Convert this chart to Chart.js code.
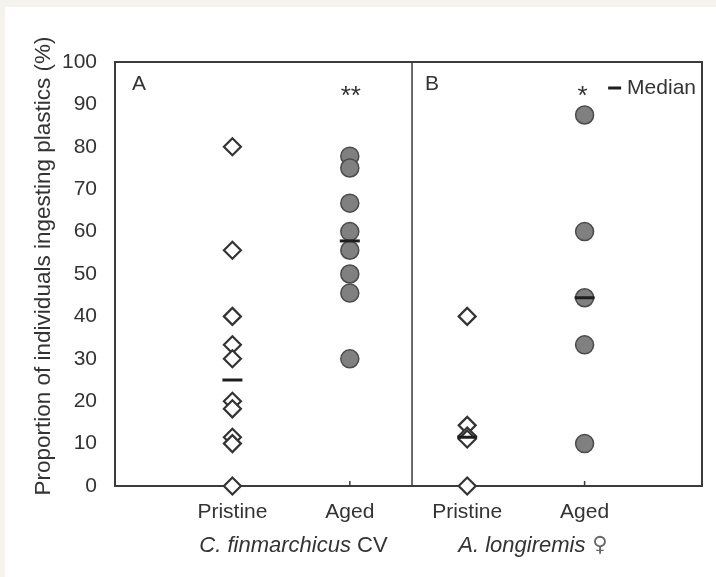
<!DOCTYPE html>
<html lang="en">
<head>
<meta charset="UTF-8">
<title>Plastic ingestion by copepods</title>
<script src="https://cdn.jsdelivr.net/npm/chart.js"></script>
<style>
  body { margin: 0; background: #f4f3ee; }
  #wrap { position: absolute; left: 5px; top: 7px; width: 711px; height: 570px; background: #fff; }
</style>
</head>
<body>
<div id="wrap"><canvas id="ingestChart"></canvas></div>
<script>
// x positions 1..4 on a linear axis, two panels split at dividerAt
const categories = ['Pristine', 'Aged', 'Pristine', 'Aged'];
const finPristine = [80, 55.6, 40, 33.3, 30, 20, 18.2, 11.5, 10, 0];
const finAged = [77.8, 75, 66.7, 60, 55.6, 50, 45.5, 30];
const lonPristine = [40, 14.3, 11.8, 11.1, 0];
const lonAged = [87.5, 60, 44.4, 33.3, 10];
const medians = [25, 57.8, 11.5, 44.4];
const panelLabels = ['A', 'B'];
const signif = ['**', '*'];
const species = [['C. finmarchicus', ' CV'], ['A. longiremis', ' \u2640']];
const yTitle = 'Proportion of individuals ingesting plastics (%)';

const dividerAt = 2.53;
const ink = '#333';
const family = "'Liberation Sans', Arial, sans-serif";

const at = (vals, xv) => vals.map(v => ({ x: xv, y: v }));

const framePlugin = {
  id: 'frame',
  beforeDatasetsDraw(chart) {
    const { ctx, chartArea: a, scales: { x } } = chart;
    ctx.save();
    ctx.strokeStyle = '#3c3c3c';
    ctx.lineWidth = 2;
    ctx.strokeRect(a.left, a.top, a.width, a.height);
    // panel divider
    const dx = x.getPixelForValue(dividerAt);
    ctx.lineWidth = 1.5;
    ctx.beginPath();
    ctx.moveTo(dx, a.top);
    ctx.lineTo(dx, a.bottom);
    // short inward ticks at each group
    categories.forEach((c, i) => {
      const px = x.getPixelForValue(i + 1);
      ctx.moveTo(px, a.bottom);
      ctx.lineTo(px, a.bottom - 5);
    });
    ctx.stroke();
    ctx.restore();
  }
};

const textPlugin = {
  id: 'texts',
  afterDatasetsDraw(chart) {
    const { ctx, chartArea: a, scales: { x, y } } = chart;
    ctx.save();
    ctx.fillStyle = ink;
    ctx.font = '21px ' + family;
    ctx.textBaseline = 'middle';
    ctx.textAlign = 'center';
    const dx = x.getPixelForValue(dividerAt);
    ctx.fillText(panelLabels[0], a.left + 24, a.top + 22);
    ctx.fillText(panelLabels[1], dx + 20, a.top + 22);

    // y axis title, rotated
    ctx.save();
    ctx.translate(39, (a.top + a.bottom) / 2 - 8);
    ctx.rotate(-Math.PI / 2);
    ctx.font = '22.5px ' + family;
    ctx.fillText(yTitle, 0, 0);
    ctx.restore();

    // significance stars over the aged groups
    ctx.font = '26px ' + family;
    ctx.textBaseline = 'alphabetic';
    ctx.fillText(signif[0], x.getPixelForValue(2) + 1, y.getPixelForValue(92.5) + 10);
    ctx.fillText(signif[1], x.getPixelForValue(4) - 2, y.getPixelForValue(92.5) + 10);

    // median key
    ctx.font = '21px ' + family;
    ctx.textBaseline = 'middle';
    ctx.textAlign = 'right';
    const ly = a.top + 26;
    const tr = a.right - 6;
    const tw = ctx.measureText('Median').width;
    ctx.fillText('Median', tr, ly);
    ctx.strokeStyle = '#1e1e1e';
    ctx.lineWidth = 3;
    ctx.beginPath();
    ctx.moveTo(tr - tw - 19, ly);
    ctx.lineTo(tr - tw - 6, ly);
    ctx.stroke();

    // species names under each panel; the sex symbol needs DejaVu
    ctx.textAlign = 'left';
    const sy = a.bottom + 60;
    const centers = [1.52, 3.56];
    const italicFont = 'italic 22px ' + family;
    species.forEach((s, i) => {
      const plainFont = s[1].includes('\u2640') ? "21px 'DejaVu Sans'" : '22px ' + family;
      const cx = x.getPixelForValue(centers[i]);
      ctx.font = italicFont;
      const w1 = ctx.measureText(s[0]).width;
      ctx.font = plainFont;
      const w2 = ctx.measureText(s[1]).width;
      const sx = cx - (w1 + w2) / 2;
      ctx.font = italicFont;
      ctx.fillStyle = ink;
      ctx.fillText(s[0], sx, sy);
      ctx.font = plainFont;
      ctx.fillStyle = s[1].includes('\u2640') ? '#666' : ink;
      ctx.fillText(s[1], sx + w1, sy);
    });
    ctx.restore();
  }
};

const ctx = document.getElementById('ingestChart').getContext('2d');
new Chart(ctx, {
  type: 'scatter',
  data: {
    datasets: [
      {
        label: 'Median',
        data: medians.map((v, i) => ({ x: i + 1, y: v })),
        pointStyle: 'line', pointRadius: 10, pointBorderWidth: 3,
        borderColor: '#1e1e1e', order: 0, clip: false
      },
      {
        label: 'Pristine',
        data: [...at(finPristine, 1), ...at(lonPristine, 3)],
        pointStyle: 'rectRot', pointRadius: 8.5, pointBorderWidth: 2.2,
        backgroundColor: '#fff', borderColor: '#333', order: 1, clip: false
      },
      {
        label: 'Aged',
        data: [...at(finAged, 2), ...at(lonAged, 4)],
        pointStyle: 'circle', pointRadius: 9, pointBorderWidth: 1.5,
        backgroundColor: '#808080', borderColor: '#4a4a4a', order: 2, clip: false
      }
    ]
  },
  options: {
    responsive: true,
    maintainAspectRatio: false,
    animation: false,
    layout: { padding: { top: 55, right: 14, left: 0, bottom: 0 } },
    plugins: { legend: { display: false }, tooltip: { enabled: false } },
    scales: {
      x: {
        type: 'linear', min: 0, max: 5,
        grid: { display: false, drawTicks: false },
        border: { display: false },
        afterBuildTicks: s => { s.ticks = categories.map((c, i) => ({ value: i + 1 })); },
        ticks: {
          callback: v => categories[v - 1],
          color: ink, font: { size: 21, family: family },
          padding: 14, maxRotation: 0, autoSkip: false
        },
        afterFit: s => { s.height = 91; }
      },
      y: {
        min: 0, max: 100,
        grid: { display: false, drawTicks: false },
        border: { display: false },
        ticks: { stepSize: 10, color: ink, font: { size: 21, family: family }, padding: 18 },
        afterFit: s => { s.width = 110; }
      }
    }
  },
  plugins: [framePlugin, textPlugin]
});
</script>
</body>
</html>
